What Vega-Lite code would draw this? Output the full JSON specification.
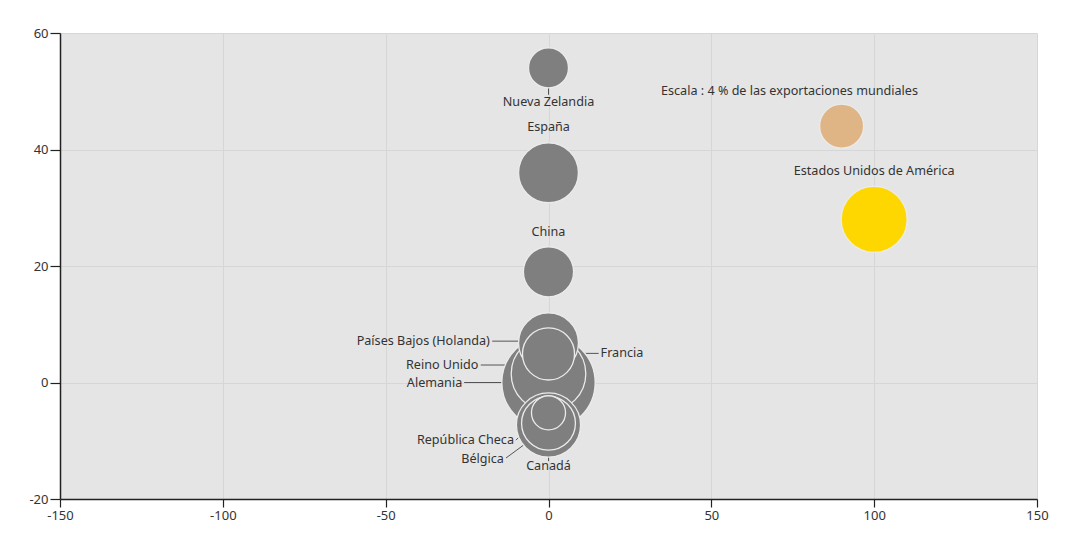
{
  "$schema": "https://vega.github.io/schema/vega-lite/v6.json",
  "width": 977,
  "height": 466,
  "autosize": {"type": "none"},
  "padding": {"left": 60, "top": 33, "right": 33, "bottom": 48},
  "background": "#ffffff",
  "config": {
    "view": {"fill": "#e5e5e5", "stroke": null},
    "font": "Noto Sans"
  },
  "datasets": {
    "points": [
      {"name": "Alemania", "x": 0, "y": 0, "share": 18, "group": "país"},
      {"name": "Reino Unido", "x": 0, "y": 1.5, "share": 11.5, "group": "país"},
      {"name": "Estados Unidos de América", "x": 100, "y": 28, "share": 9, "group": "EEUU"},
      {"name": "Canadá", "x": 0, "y": -7.3, "share": 8.5, "group": "país"},
      {"name": "España", "x": 0, "y": 36, "share": 7.4, "group": "país"},
      {"name": "Países Bajos (Holanda)", "x": 0, "y": 6.8, "share": 7.4, "group": "país"},
      {"name": "Bélgica", "x": 0, "y": -7, "share": 6, "group": "país"},
      {"name": "Francia", "x": 0, "y": 4.9, "share": 5.6, "group": "país"},
      {"name": "China", "x": 0, "y": 19, "share": 5.2, "group": "país"},
      {"name": "Escala", "x": 90, "y": 44, "share": 4, "group": "escala"},
      {"name": "Nueva Zelandia", "x": 0, "y": 54, "share": 3.3, "group": "país"},
      {"name": "República Checa", "x": 0, "y": -5.2, "share": 2.4, "group": "país"}
    ],
    "labels": [
      {"text": "Nueva Zelandia", "lx": 0, "ly": 48.2, "side": "center"},
      {"text": "España", "lx": 0, "ly": 43.9, "side": "center"},
      {"text": "China", "lx": 0, "ly": 25.8, "side": "center"},
      {"text": "Escala : 4 % de las exportaciones mundiales", "lx": 74, "ly": 50, "side": "center"},
      {"text": "Estados Unidos de América", "lx": 100, "ly": 36.3, "side": "center"},
      {"text": "Países Bajos (Holanda)", "lx": -18, "ly": 7.1, "side": "right"},
      {"text": "Reino Unido", "lx": -21.5, "ly": 3, "side": "right"},
      {"text": "Alemania", "lx": -26.5, "ly": 0, "side": "right"},
      {"text": "Francia", "lx": 16, "ly": 5, "side": "left"},
      {"text": "República Checa", "lx": -10.6, "ly": -9.9, "side": "right"},
      {"text": "Bélgica", "lx": -13.7, "ly": -13.2, "side": "right"},
      {"text": "Canadá", "lx": 0, "ly": -14.3, "side": "center"}
    ],
    "leaders": [
      {"x1": 0, "y1": 50.6, "x2": 0, "y2": 49.4},
      {"x1": -17.3, "y1": 7.1, "x2": -8.75, "y2": 7.1},
      {"x1": -20.8, "y1": 3, "x2": -11.8, "y2": 3},
      {"x1": -25.9, "y1": 0, "x2": -14, "y2": 0},
      {"x1": 8.75, "y1": 5, "x2": 15.4, "y2": 5},
      {"x1": -10, "y1": -9.9, "x2": -4.8, "y2": -6.95},
      {"x1": -13.05, "y1": -12.96, "x2": -7.2, "y2": -10.56},
      {"x1": 0, "y1": -12.8, "x2": 0, "y2": -13.5}
    ]
  },
  "layer": [
    {
      "data": {"name": "leaders"},
      "mark": {"type": "rule", "color": "#555555", "strokeWidth": 1},
      "encoding": {
        "x": {"field": "x1", "type": "quantitative", "scale": {"domain": [-150, 150], "nice": false, "zero": false},
          "axis": {"values": [-150, -100, -50, 0, 50, 100, 150], "labelExpr": "datum.value + ''", "title": null, "grid": true, "gridColor": "#d6d6d6", "gridWidth": 1,
            "domainColor": "#222222", "domainWidth": 1.5, "tickColor": "#222222", "tickSize": 8, "tickWidth": 1.2,
            "labelFontSize": 13, "labelColor": "#333333", "labelPadding": 2, "labelFlush": false}},
        "y": {"field": "y1", "type": "quantitative", "scale": {"domain": [-20, 60], "nice": false, "zero": false},
          "axis": {"values": [-20, 0, 20, 40, 60], "labelExpr": "datum.value + ''", "title": null, "grid": true, "gridColor": "#d6d6d6", "gridWidth": 1,
            "domainColor": "#222222", "domainWidth": 1.5, "tickColor": "#222222", "tickSize": 10, "tickWidth": 1.2,
            "labelFontSize": 13, "labelColor": "#333333", "labelPadding": 2, "labelFlush": false}},
        "x2": {"field": "x2"},
        "y2": {"field": "y2"}
      }
    },
    {
      "data": {"name": "points"},
      "mark": {"type": "circle", "opacity": 1, "stroke": "#ebebeb", "strokeWidth": 1.3},
      "encoding": {
        "x": {"field": "x", "type": "quantitative"},
        "y": {"field": "y", "type": "quantitative"},
        "size": {"field": "share", "type": "quantitative", "scale": {"type": "linear", "domain": [0, 20], "range": [0, 9680], "zero": true}, "legend": null},
        "color": {"field": "group", "type": "nominal", "scale": {"domain": ["país", "EEUU", "escala"], "range": ["#7f7f7f", "#ffd700", "#e0b586"]}, "legend": null},
        "order": {"field": "share", "sort": "descending"}
      }
    },
    {
      "data": {"name": "labels"},
      "transform": [{"filter": "datum.side === 'center'"}],
      "mark": {"type": "text", "align": "center", "baseline": "middle", "fontSize": 12.6, "color": "#333333"},
      "encoding": {
        "x": {"field": "lx", "type": "quantitative"},
        "y": {"field": "ly", "type": "quantitative"},
        "text": {"field": "text"}
      }
    },
    {
      "data": {"name": "labels"},
      "transform": [{"filter": "datum.side === 'right'"}],
      "mark": {"type": "text", "align": "right", "baseline": "middle", "fontSize": 12.6, "color": "#333333"},
      "encoding": {
        "x": {"field": "lx", "type": "quantitative"},
        "y": {"field": "ly", "type": "quantitative"},
        "text": {"field": "text"}
      }
    },
    {
      "data": {"name": "labels"},
      "transform": [{"filter": "datum.side === 'left'"}],
      "mark": {"type": "text", "align": "left", "baseline": "middle", "fontSize": 12.6, "color": "#333333"},
      "encoding": {
        "x": {"field": "lx", "type": "quantitative"},
        "y": {"field": "ly", "type": "quantitative"},
        "text": {"field": "text"}
      }
    }
  ]
}
